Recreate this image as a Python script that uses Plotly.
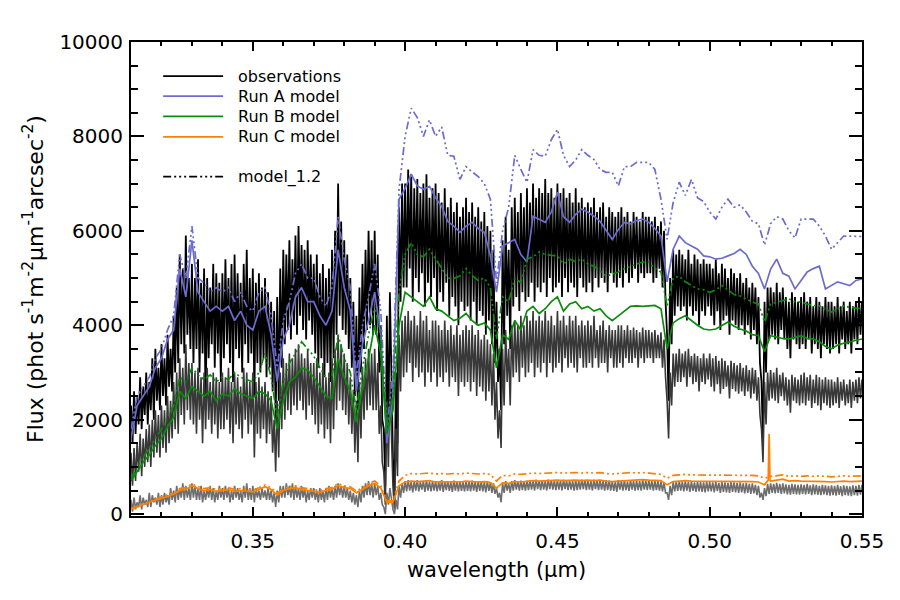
import numpy as np
import plotly.graph_objects as go

# ---------------- data ----------------
WL_START = 0.310
OBS_STEP = 0.001     # observations sampled every 1 nm (peak / trough pairs)
MODEL_STEP = 0.002   # models sampled every 2 nm

# Observation A (black): spike maxima and minima, 0.310 .. 0.550
obs_a_hi = [
    2300, 2600, 2500, 2900, 2700, 3000, 2800, 3300, 3500, 3100,
    3600, 3300, 3800, 3500, 4200, 4800, 5500, 5200, 5900, 5000,
    5300, 5000, 5400, 4900, 5200, 5000, 4800, 5300, 5100, 4900,
    5100, 5400, 5000, 5300, 5500, 5100, 4900, 5300, 5600, 5000,
    5200, 4900, 5100, 4800, 5000, 4700, 4500, 4300, 4600, 5200,
    5600, 5500, 5800, 5400, 5900, 6100, 5700, 5600, 5800, 5500,
    5300, 5500, 5100, 5300, 5000, 5200, 5600, 6000, 7000, 6200,
    5800, 5500, 5000, 4500, 4200, 4800, 5300, 5600, 6000, 5800,
    6000, 5500, 4000, 1800, 4200, 4700, 1200, 3000, 6500, 7000,
    7000, 7300, 7200, 6900, 7100, 6800, 7000, 7200, 6700, 6900,
    7000, 6800, 6600, 6900, 6500, 6700, 6400, 6600, 6300, 6500,
    6700, 6400, 6600, 6300, 6500, 6200, 6400, 6100, 6000, 5600,
    4500, 3500, 5800, 6300, 5600, 6500, 6700, 6400, 6800, 6500,
    6900, 6600, 7000, 6700, 6900, 6800, 7100, 6800, 6900, 6700,
    7000, 6800, 6900, 6700, 6800, 6600, 6900, 6600, 6700, 6500,
    6600, 6500, 6700, 6400, 6500, 6600, 6300, 6500, 6400, 6300,
    6400, 6500, 6300, 6400, 6200, 6400, 6300, 6200, 6400, 6300,
    6300, 6200, 6300, 6100, 6200, 6000, 3800, 5000, 5600, 5500,
    5600, 5500, 5400, 5600, 5300, 5500, 5400, 5300, 5400, 5300,
    5300, 5200, 5400, 5100, 5300, 5200, 5000, 5200, 5100, 5000,
    5100, 4900, 5000, 4800, 4900, 4800, 4600, 2800, 4500, 4800,
    4800, 4700, 4900, 4700, 4800, 4600, 4500, 4700, 4600, 4500,
    4600, 4700, 4500, 4600, 4400, 4600, 4500, 4400, 4600, 4500,
    4500, 4400, 4600, 4400, 4500, 4300, 4500, 4400, 4500, 4600,
    4500,
]
obs_a_lo = [
    1500, 1700, 1900, 1800, 2100, 1900, 2200, 2000, 2400, 2200,
    2500, 2300, 2700, 2600, 3000, 3200, 3600, 3400, 3800, 3500,
    3200, 3500, 3000, 3400, 2200, 3300, 3600, 3100, 3400, 2800,
    3300, 3600, 3200, 2800, 3500, 3300, 3000, 3600, 3200, 3400,
    2500, 3200, 3000, 3300, 2900, 3100, 2600, 2000, 2400, 3100,
    3600, 3900, 3700, 4000, 3800, 4200, 3900, 3700, 4100, 3800,
    3400, 3100, 3300, 2900, 3200, 2800, 3300, 3800, 4200, 3900,
    3800, 3500, 3100, 2500, 2200, 3000, 3500, 3900, 4000, 3800,
    3800, 3000, 2000, 600, 1800, 2500, 300, 1500, 4500, 4800,
    4800, 5200, 4500, 5000, 4700, 5100, 4400, 4900, 4600, 5000,
    4300, 4700, 4500, 4900, 4200, 4600, 4400, 4000, 4500, 4300,
    4400, 4100, 4500, 4000, 4300, 4200, 3800, 4100, 3600, 3200,
    2800, 2200, 3600, 4200, 3500, 4400, 4600, 4300, 4700, 4500,
    4600, 4900, 4500, 4800, 4700, 4900, 4600, 5000, 4700, 4800,
    4900, 4600, 5000, 4700, 4900, 4800, 4600, 5000, 4800, 4700,
    4900, 4700, 5000, 4800, 5000, 4900, 4700, 5100, 4900, 4800,
    5000, 4800, 5100, 4900, 5000, 5200, 4900, 5100, 5000, 5100,
    5100, 4900, 5000, 5200, 4800, 4500, 2400, 3600, 4200, 4400,
    4300, 4400, 4100, 4400, 4200, 4300, 4000, 4300, 4200, 4400,
    4200, 4000, 4300, 3900, 4100, 4200, 3800, 4100, 4000, 3900,
    4000, 3800, 4000, 3700, 3900, 3600, 3200, 1500, 3000, 3700,
    3800, 3700, 3600, 3900, 3700, 3500, 3300, 3700, 3600, 3500,
    3600, 3500, 3700, 3400, 3600, 3500, 3300, 3600, 3500, 3400,
    3500, 3600, 3400, 3700, 3500, 3600, 3400, 3700, 3600, 3800,
    3900,
]

# Observation B (dark grey)
obs_b_hi = [
    1300, 1400, 1500, 1700, 1600, 1800, 1900, 2000, 2200, 2100,
    2300, 2200, 2500, 2400, 2800, 3000, 3300, 3100, 3600, 3200,
    3200, 3000, 3100, 2900, 3000, 3100, 2800, 3000, 2900, 2800,
    3000, 2900, 3100, 2800, 3000, 2900, 2700, 3100, 3000, 2800,
    3000, 2800, 2900, 2700, 2800, 2600, 2500, 2000, 2400, 3000,
    3300, 3200, 3400, 3300, 3500, 3600, 3400, 3300, 3500, 3200,
    3200, 3300, 3000, 3200, 2900, 3000, 3300, 3500, 3800, 3600,
    3400, 3200, 2900, 2600, 2400, 2800, 3100, 3300, 3500, 3400,
    3500, 3200, 2300, 900, 2400, 2800, 600, 1800, 3800, 4100,
    4200, 4300, 4100, 4200, 4000, 4300, 4100, 4200, 3900, 4100,
    4100, 4000, 3900, 4100, 3900, 4000, 3800, 4000, 3800, 3900,
    4000, 3900, 4000, 3800, 3900, 3700, 3800, 3700, 3600, 3400,
    2800, 2200, 3500, 3900, 3500, 4000, 4100, 4000, 4200, 4000,
    4200, 4100, 4300, 4100, 4200, 4100, 4300, 4100, 4200, 4000,
    4300, 4100, 4200, 4000, 4200, 4100, 4200, 4000, 4100, 4000,
    4100, 4000, 4200, 3900, 4000, 4100, 3900, 4000, 3900, 3900,
    4000, 4000, 3900, 4000, 3900, 3950, 3900, 3850, 3950, 3900,
    3900, 3850, 3900, 3800, 3850, 3700, 2400, 3000, 3400, 3400,
    3500, 3400, 3450, 3500, 3350, 3400, 3350, 3300, 3400, 3300,
    3400, 3300, 3350, 3250, 3300, 3250, 3150, 3250, 3200, 3150,
    3200, 3100, 3150, 3050, 3100, 3050, 2900, 1800, 2800, 3000,
    3050, 3000, 3100, 2950, 3000, 2900, 2850, 2950, 2900, 2850,
    2950, 3000, 2900, 2950, 2850, 2950, 2900, 2850, 2900, 2850,
    2850, 2800, 2900, 2800, 2850, 2750, 2850, 2800, 2850, 2900,
    2850,
]
obs_b_lo = [
    600, 700, 900, 800, 1000, 1100, 1000, 1200, 1300, 1200,
    1400, 1300, 1500, 1600, 1800, 1700, 2100, 1900, 2200, 2000,
    1900, 1700, 2000, 1500, 1800, 2000, 1700, 1900, 1600, 1800,
    1800, 2000, 1700, 1500, 1900, 1800, 1600, 2000, 1700, 1900,
    1200, 1700, 1600, 1800, 1500, 1700, 1300, 900, 1200, 1800,
    2000, 2200, 2100, 2300, 2200, 2400, 2200, 2000, 2300, 2100,
    1900, 1700, 1900, 1600, 1800, 1500, 1800, 2200, 2400, 2200,
    2100, 1900, 1700, 1300, 1100, 1600, 2000, 2200, 2300, 2200,
    2200, 1700, 1100, 200, 1000, 1400, 100, 800, 2600, 2900,
    3000, 3200, 2800, 3100, 2900, 3000, 2700, 3000, 2800, 3000,
    2700, 2900, 2800, 3000, 2700, 2900, 2800, 2500, 2800, 2700,
    2800, 2600, 2800, 2500, 2700, 2600, 2400, 2600, 2300, 2000,
    1600, 1400, 2300, 2800, 2300, 2900, 3000, 2800, 3100, 2900,
    3000, 3200, 2900, 3100, 3000, 3200, 2900, 3200, 3000, 3100,
    3200, 3000, 3300, 3100, 3200, 3100, 3000, 3300, 3100, 3100,
    3200, 3100, 3300, 3100, 3200, 3200, 3000, 3300, 3100, 3100,
    3200, 3100, 3300, 3200, 3200, 3300, 3100, 3300, 3200, 3300,
    3300, 3200, 3300, 3300, 3100, 2900, 1600, 2300, 2700, 2800,
    2800, 2900, 2700, 2900, 2750, 2800, 2600, 2800, 2750, 2850,
    2700, 2600, 2750, 2550, 2650, 2700, 2450, 2650, 2600, 2550,
    2600, 2500, 2600, 2450, 2550, 2400, 2100, 1100, 1900, 2400,
    2450, 2400, 2350, 2500, 2400, 2300, 2150, 2400, 2350, 2300,
    2350, 2300, 2400, 2250, 2350, 2300, 2200, 2350, 2300, 2250,
    2300, 2350, 2250, 2400, 2300, 2350, 2250, 2400, 2350, 2450,
    2450,
]

# Observation C (grey)
obs_c_hi = [
    300, 350, 250, 400, 350, 300, 450, 400, 350, 450,
    400, 450, 400, 550, 500, 600, 550, 650, 600, 550,
    650, 600, 550, 600, 500, 550, 600, 550, 500, 600,
    550, 600, 550, 500, 600, 550, 500, 600, 650, 550,
    600, 550, 500, 550, 500, 550, 500, 450, 500, 600,
    600, 650, 600, 650, 600, 550, 600, 550, 500, 550,
    550, 500, 550, 500, 550, 600, 550, 600, 650, 600,
    600, 550, 500, 450, 400, 500, 600, 650, 700, 650,
    650, 600, 450, 150, 450, 550, 100, 300, 600, 650,
    700, 720, 680, 700, 720, 680, 700, 720, 690, 700,
    700, 680, 720, 690, 700, 680, 710, 690, 700, 680,
    700, 690, 710, 680, 700, 690, 680, 700, 670, 650,
    550, 450, 650, 700, 650, 700, 720, 700, 710, 700,
    710, 720, 700, 730, 710, 720, 700, 730, 720, 710,
    720, 710, 730, 710, 720, 700, 720, 710, 730, 720,
    720, 700, 730, 710, 720, 700, 720, 710, 700, 690,
    720, 700, 710, 690, 720, 700, 710, 700, 720, 710,
    720, 700, 710, 700, 690, 670, 450, 600, 680, 690,
    700, 690, 700, 680, 690, 670, 690, 680, 670, 690,
    680, 670, 690, 660, 680, 670, 660, 680, 670, 660,
    670, 650, 660, 640, 650, 620, 600, 450, 550, 640,
    650, 640, 660, 640, 650, 630, 620, 640, 630, 620,
    630, 620, 640, 610, 630, 620, 600, 620, 610, 600,
    610, 600, 620, 590, 610, 600, 590, 610, 600, 620,
    620,
]
obs_c_lo = [
    50, 100, 150, 100, 200, 150, 150, 250, 200, 150,
    200, 250, 200, 300, 250, 300, 350, 300, 350, 300,
    350, 300, 300, 250, 300, 350, 300, 250, 300, 350,
    300, 350, 250, 300, 350, 300, 250, 350, 300, 300,
    250, 350, 300, 350, 300, 300, 250, 150, 250, 350,
    350, 400, 350, 300, 350, 300, 350, 250, 300, 350,
    300, 250, 300, 250, 300, 350, 300, 350, 400, 350,
    350, 300, 250, 200, 150, 250, 350, 400, 400, 350,
    400, 300, 200, 0, 200, 300, 0, 100, 350, 450,
    480, 500, 460, 500, 480, 520, 470, 500, 480, 500,
    480, 500, 470, 510, 490, 470, 500, 480, 490, 480,
    490, 480, 500, 470, 490, 480, 460, 490, 450, 430,
    350, 250, 450, 500, 450, 500, 520, 500, 510, 500,
    510, 520, 500, 530, 510, 520, 500, 530, 520, 510,
    520, 500, 530, 510, 520, 500, 510, 520, 530, 510,
    520, 500, 530, 510, 520, 500, 510, 500, 490, 470,
    520, 500, 510, 490, 520, 500, 510, 500, 520, 510,
    520, 500, 510, 500, 480, 450, 300, 400, 480, 490,
    500, 480, 500, 470, 490, 470, 480, 470, 460, 480,
    480, 460, 490, 450, 470, 460, 450, 470, 460, 450,
    460, 440, 450, 430, 440, 400, 350, 300, 380, 430,
    450, 440, 450, 430, 440, 420, 410, 430, 420, 410,
    430, 420, 430, 400, 420, 410, 400, 420, 400, 390,
    400, 390, 410, 380, 400, 390, 380, 400, 390, 410,
    410,
]

# Run A model (blue), solid and model_1.2 (dash-dot-dot-dot)
run_a = [
    1600, 2300, 2500, 2700, 3100, 3300, 3700, 3900, 5200, 4600,
    5800, 4700, 4500, 4300, 4400, 4300, 4400, 4100, 4300, 4000,
    3900, 4300, 4400, 3800, 2800, 3700, 4000, 4600, 4800, 4500,
    4500, 4200, 4000, 4300, 5600, 4800, 4300, 2600, 3600, 4100,
    4700, 3800, 1500, 2500, 6670, 6900, 7200, 6950, 6880, 6940,
    6700, 6520, 6200, 6100, 5970, 6100, 6180, 6050, 5970, 5470,
    4700, 5680, 5750, 5820, 5500, 5340, 6310, 6250, 6180, 6400,
    6820, 6300, 6180, 6350, 6460, 6400, 6310, 6200, 6000, 5820,
    6030, 6180, 6150, 6220, 6250, 6180, 6050, 5890, 4920, 5610,
    5890, 5750, 5680, 5610, 5470, 5450, 5400, 5420, 5470, 5520,
    5610, 5500, 5250, 5100, 4770, 5190, 5400, 5100, 5040, 4770,
    4950, 5130, 5200, 5250, 4770, 4850, 4920, 4880, 4840, 4950,
    4980,
]
run_a_12 = [
    1800, 2500, 2700, 2900, 3300, 3500, 3900, 4200, 5500, 5000,
    6100, 5000, 4900, 4700, 4800, 4700, 4800, 4500, 4700, 4400,
    4300, 4700, 4800, 4200, 3100, 4100, 4500, 5100, 5300, 5000,
    5000, 4600, 4400, 4800, 6300, 5400, 4800, 2900, 4000, 4600,
    5300, 4300, 1800, 3000, 6880, 8000, 8600, 8400, 8000, 8350,
    8000, 8200, 7600, 7580, 7090, 7360, 7250, 7150, 7000, 6670,
    4900, 6000, 6500, 7600, 7300, 7030, 7720, 7600, 7580, 7930,
    8150, 7600, 7360, 7500, 7720, 7600, 7510, 7300, 7240, 7240,
    6950, 7360, 7360, 7450, 7450, 7450, 7300, 6670, 5820, 6600,
    7030, 6750, 7090, 6700, 6620, 6400, 6250, 6500, 6670, 6500,
    6550, 6400, 6200, 6150, 5700, 6150, 6300, 6250, 6000, 5850,
    6250, 6250, 6250, 6100, 5890, 5610, 5750, 5890, 5890, 5890,
    5880,
]

# Run B model (green)
run_b = [
    700, 900, 1100, 1250, 1450, 1600, 1850, 2050, 2600, 2450,
    2700, 2600, 2500, 2600, 2400, 2550, 2500, 2650, 2550, 2500,
    2450, 2600, 2550, 2400, 1800, 2400, 2800, 2900, 3100, 3050,
    2900, 2700, 2500, 2450, 3300, 2900, 2600, 1950, 2700, 3300,
    4000, 3400, 1700, 2200, 4000, 4700, 4600, 4500, 4400, 4600,
    4350, 4300, 4200, 4100, 4150, 4250, 4100, 4000, 4050, 3900,
    3100, 3800, 3700, 4100, 3900, 4300, 4400, 4250, 4350, 4500,
    4600, 4300, 4450, 4500, 4350, 4400, 4300, 4350, 4200, 4100,
    4200, 4300, 4400, 4410, 4400, 4410, 4420, 4350, 3500, 4050,
    4140, 4200, 4100, 4000, 3920, 3900, 3920, 4000, 4070, 3980,
    3920, 3880, 3800, 3780, 3440, 3780, 3750, 3720, 3710, 3740,
    3780, 3720, 3710, 3650, 3550, 3500, 3580, 3620, 3650, 3680,
    3710,
]
run_b_12 = [
    750, 1000, 1200, 1400, 1600, 1800, 2050, 2300, 2900, 2800,
    3100, 2950, 2850, 2950, 2800, 2900, 2850, 3000, 2900, 2850,
    2800, 3000, 3400, 2900, 2050, 2800, 3200, 3400, 3650, 3500,
    3350, 3100, 2900, 2900, 3800, 3300, 3000, 2200, 3100, 3800,
    4400, 3800, 1900, 2500, 4700, 5500, 5750, 5500, 5450, 5610,
    5400, 5200, 5000, 4990, 5050, 5200, 5050, 4950, 5000, 4800,
    3700, 4600, 4500, 5000, 4900, 5400, 5450, 5550, 5500, 5480,
    5470, 5300, 5400, 5350, 5400, 5300, 5250, 5150, 5040, 5080,
    5130, 5200, 5250, 5300, 5340, 5340, 5200, 5130, 4410, 5000,
    5040, 4920, 4850, 4770, 4750, 4700, 4750, 4840, 4750, 4650,
    4620, 4550, 4490, 4450, 4070, 4450, 4490, 4520, 4560, 4500,
    4490, 4450, 4420, 4410, 4350, 4280, 4350, 4410, 4380, 4360,
    4350,
]

# Run C model (orange)
run_c = [
    100, 150, 200, 250, 300, 330, 380, 420, 500, 520,
    600, 540, 500, 520, 480, 500, 520, 480, 500, 490,
    470, 520, 580, 520, 400, 500, 540, 560, 520, 500,
    480, 460, 500, 520, 600, 560, 540, 450, 520, 600,
    650, 550, 250, 250, 600, 680, 700, 690, 700, 710,
    680, 690, 680, 690, 680, 700, 690, 680, 690, 670,
    550, 660, 650, 690, 680, 700, 710, 700, 710, 720,
    720, 710, 720, 720, 710, 720, 710, 720, 700, 690,
    700, 710, 720, 720, 730, 720, 720, 710, 620, 690,
    700, 710, 700, 700, 690, 700, 690, 700, 700, 690,
    690, 700, 690, 680, 620, 700, 720, 740, 700, 710,
    700, 700, 690, 700, 690, 680, 690, 700, 690, 700,
    700,
]
# narrow emission feature in Run C near 0.5195 um
run_c_line_wl = [0.5192, 0.5195, 0.5198]
run_c_line = [720, 1700, 720]

run_c_12 = [
    110, 170, 220, 270, 320, 360, 410, 450, 540, 560,
    640, 580, 540, 560, 520, 540, 560, 520, 540, 530,
    510, 560, 620, 560, 440, 540, 580, 600, 560, 540,
    520, 500, 540, 560, 650, 600, 580, 490, 560, 650,
    700, 600, 280, 280, 700, 820, 860, 850, 860, 870,
    850, 860, 850, 860, 850, 870, 860, 850, 860, 840,
    700, 820, 810, 850, 840, 860, 870, 860, 870, 880,
    880, 870, 880, 880, 870, 880, 870, 880, 860, 850,
    860, 870, 880, 870, 880, 870, 860, 840, 760, 820,
    830, 840, 830, 830, 820, 830, 820, 830, 830, 820,
    820, 830, 820, 810, 760, 800, 820, 830, 800, 810,
    800, 810, 800, 810, 800, 790, 800, 810, 800, 810,
    810,
]

legend_labels = ["observations", "Run A model", "Run B model", "Run C model"]
model_style_label = "model_1.2"

# ---------------- styling ----------------
C_OBS_A = "#000000"
C_OBS_B = "#383838"
C_OBS_C = "#6e6e6e"
C_A = "#6b6bd2"
C_B = "#0a8c0a"
C_C = "#ff8000"
DASH_12 = "8px,3px,2px,3px,2px,3px,2px,3px"
FONT = "DejaVu Sans"


def model_wl(vals):
    return np.round(WL_START + MODEL_STEP * np.arange(len(vals)), 4)


def obs_xy(hi, lo):
    wl = np.round(WL_START + OBS_STEP * np.arange(len(hi)), 4)
    x = np.empty(2 * len(hi))
    y = np.empty(2 * len(hi))
    x[0::2] = wl
    x[1::2] = wl + OBS_STEP / 2
    y[0::2] = hi
    y[1::2] = lo
    return x, y


fig = go.Figure()

for hi, lo, col, w in [(obs_a_hi, obs_a_lo, C_OBS_A, 1.8),
                       (obs_b_hi, obs_b_lo, C_OBS_B, 1.6),
                       (obs_c_hi, obs_c_lo, C_OBS_C, 1.6)]:
    x, y = obs_xy(hi, lo)
    fig.add_trace(go.Scatter(x=x, y=y, mode="lines",
                             line=dict(color=col, width=w),
                             showlegend=False, hoverinfo="skip"))

# Run C solid merged with its emission feature
wl_c = model_wl(run_c)
xc = np.concatenate([wl_c, run_c_line_wl])
yc = np.concatenate([run_c, run_c_line])
order = np.argsort(xc, kind="stable")
xc, yc = xc[order], yc[order]

models = [
    (model_wl(run_a_12), run_a_12, C_A, DASH_12),
    (model_wl(run_a), run_a, C_A, "solid"),
    (model_wl(run_b_12), run_b_12, C_B, DASH_12),
    (model_wl(run_b), run_b, C_B, "solid"),
    (model_wl(run_c_12), run_c_12, C_C, DASH_12),
    (xc, yc, C_C, "solid"),
]
for x, y, col, dash in models:
    fig.add_trace(go.Scatter(x=x, y=y, mode="lines",
                             line=dict(color=col, width=1.7, dash=dash),
                             showlegend=False, hoverinfo="skip"))

# ---------------- hand-made legend (paper coords) ----------------
leg_x0, leg_x1, leg_tx = 0.044, 0.126, 0.144
leg_rows = [0.928, 0.886, 0.843, 0.800]
leg_cols = [C_OBS_A, C_A, C_B, C_C]
shapes = []
annotations = []
for lab, col, yy in zip(legend_labels, leg_cols, leg_rows):
    shapes.append(dict(type="line", xref="paper", yref="paper",
                       x0=leg_x0, x1=leg_x1, y0=yy, y1=yy,
                       line=dict(color=col, width=1.7)))
    annotations.append(dict(text=lab, xref="paper", yref="paper",
                            x=leg_tx, y=yy, xanchor="left", yanchor="middle",
                            showarrow=False, font=dict(size=16, color="black", family=FONT)))
yy = 0.716
shapes.append(dict(type="line", xref="paper", yref="paper",
                   x0=leg_x0, x1=leg_x1, y0=yy, y1=yy,
                   line=dict(color="black", width=1.7, dash=DASH_12)))
annotations.append(dict(text=model_style_label, xref="paper", yref="paper",
                        x=leg_tx, y=yy, xanchor="left", yanchor="middle",
                        showarrow=False, font=dict(size=16, color="black", family=FONT)))

axis_common = dict(showline=True, linecolor="black", linewidth=2, mirror="allticks",
                   ticks="inside", tickcolor="black", tickwidth=1.5,
                   showgrid=False, zeroline=False,
                   tickfont=dict(size=20, family=FONT, color="black"))

fig.update_layout(
    width=900, height=600,
    margin=dict(l=131, r=38, t=42, b=84),
    paper_bgcolor="white", plot_bgcolor="white",
    showlegend=False,
    shapes=shapes, annotations=annotations,
    xaxis=dict(**axis_common, range=[0.31, 0.55], tick0=0.35, dtick=0.05,
               tickformat=".2f", ticklen=9, ticklabelstandoff=6,
               minor=dict(ticks="inside", dtick=0.01, tick0=0.31, ticklen=4,
                          tickcolor="black", tickwidth=1.5, showgrid=False),
               title=dict(text="wavelength (μm)", standoff=10,
                          font=dict(size=21, family=FONT, color="black"))),
    yaxis=dict(**axis_common, range=[-40, 10000], tick0=0, dtick=2000, ticklen=13,
               tickformat="d", ticklabelstandoff=2,
               minor=dict(ticks="inside", dtick=500, tick0=0, ticklen=7,
                          tickcolor="black", tickwidth=1.5, showgrid=False),
               title=dict(text="Flux (phot s<sup>-1</sup>m<sup>-2</sup>μm<sup>-1</sup>arcsec<sup>-2</sup>)",
                          standoff=10, font=dict(size=22, family=FONT, color="black"))),
)

fig.write_html("out.html")
